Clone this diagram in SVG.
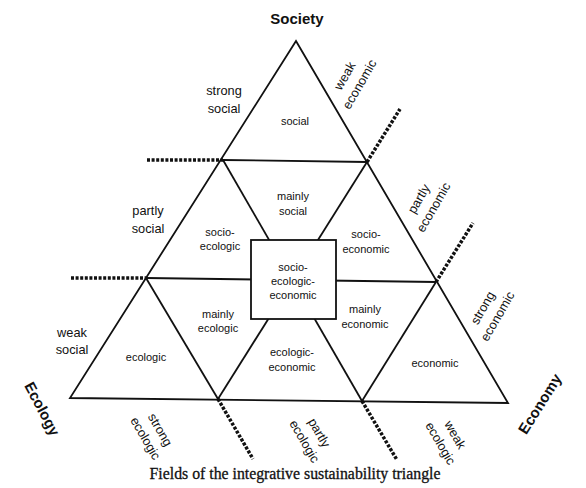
<svg xmlns="http://www.w3.org/2000/svg" width="586" height="488" viewBox="0 0 586 488">
<style>
  .ln { fill: none; stroke: #111; stroke-width: 1.8; stroke-linejoin: miter; }
  .dash { fill: none; stroke: #111; stroke-width: 3.5; stroke-dasharray: 3 1.6; }
  text { font-family: "Liberation Sans", Arial, sans-serif; fill: #111; text-anchor: middle; }
  .in { font-size: 11px; }
  .out { font-size: 12.8px; }
  .big { font-size: 15px; font-weight: bold; }
  .cap { font-family: "Liberation Serif", "Times New Roman", serif; font-size: 15.8px; stroke: #111; stroke-width: 0.3; }
</style>
<rect width="586" height="488" fill="#ffffff"/>
<g id="connectors">
  <polygon class="ln" points="296,41 508,403 70,398"/>
  <line class="ln" x1="223" y1="160" x2="367" y2="162"/>
  <line class="ln" x1="146" y1="278" x2="436" y2="282"/>
  <line class="ln" x1="223" y1="160" x2="362" y2="401"/>
  <line class="ln" x1="367" y1="162" x2="218" y2="399"/>
  <line class="ln" x1="146" y1="278" x2="218" y2="399"/>
  <line class="ln" x1="436" y1="282" x2="362" y2="401"/>
  <line class="dash" x1="147" y1="160" x2="223" y2="160"/>
  <line class="dash" x1="71" y1="278" x2="146" y2="278"/>
  <line class="dash" x1="367" y1="162" x2="400" y2="109"/>
  <line class="dash" x1="436" y1="282" x2="473" y2="223"/>
  <line class="dash" x1="218" y1="399" x2="253" y2="459"/>
  <line class="dash" x1="362" y1="401" x2="397" y2="460"/>
</g>
<g id="social"><text class="in" x="295" y="125">social</text></g>
<g id="mainly-social"><text class="in" x="293" y="200">mainly</text><text class="in" x="293" y="215">social</text></g>
<g id="socio-ecologic"><text class="in" x="220" y="236">socio-</text><text class="in" x="220" y="250">ecologic</text></g>
<g id="socio-economic"><text class="in" x="366" y="238">socio-</text><text class="in" x="366" y="253">economic</text></g>
<g id="socio-ecologic-economic">
  <rect x="251" y="240" width="85" height="79" fill="#ffffff" stroke="#111" stroke-width="1.8"/>
  <text class="in" x="293" y="271">socio-</text>
  <text class="in" x="293" y="285">ecologic-</text>
  <text class="in" x="293" y="299">economic</text>
</g>
<g id="mainly-ecologic"><text class="in" x="218" y="318">mainly</text><text class="in" x="218" y="332">ecologic</text></g>
<g id="mainly-economic"><text class="in" x="365" y="313">mainly</text><text class="in" x="365" y="328">economic</text></g>
<g id="ecologic"><text class="in" x="146" y="361">ecologic</text></g>
<g id="ecologic-economic"><text class="in" x="292" y="356">ecologic-</text><text class="in" x="292" y="371">economic</text></g>
<g id="economic"><text class="in" x="435" y="367">economic</text></g>
<g id="labels">
  <text class="big" x="297" y="24">Society</text>
  <text class="big" transform="translate(42,409) rotate(62)" x="0" y="5">Ecology</text>
  <text class="big" transform="translate(540,404) rotate(-58)" x="0" y="5">Economy</text>
  <text class="out" x="224" y="95">strong</text><text class="out" x="224" y="113">social</text>
  <text class="out" x="148" y="215">partly</text><text class="out" x="148" y="233">social</text>
  <text class="out" x="72" y="337">weak</text><text class="out" x="72" y="354">social</text>
  <g transform="translate(352,80) rotate(-60)"><text class="out" x="0" y="-4">weak</text><text class="out" x="0" y="13">economic</text></g>
  <g transform="translate(426,203) rotate(-60)"><text class="out" x="0" y="-4">partly</text><text class="out" x="0" y="13">economic</text></g>
  <g transform="translate(490,312) rotate(-60)"><text class="out" x="0" y="-4">strong</text><text class="out" x="0" y="13">economic</text></g>
  <g transform="translate(153,434) rotate(60)"><text class="out" x="0" y="-4">strong</text><text class="out" x="0" y="13">ecologic</text></g>
  <g transform="translate(312,437) rotate(60)"><text class="out" x="0" y="-4">partly</text><text class="out" x="0" y="13">ecologic</text></g>
  <g transform="translate(448,439) rotate(60)"><text class="out" x="0" y="-4">weak</text><text class="out" x="0" y="13">ecologic</text></g>
  <text class="cap" x="295" y="479">Fields of the integrative sustainability triangle</text>
</g>
</svg>
